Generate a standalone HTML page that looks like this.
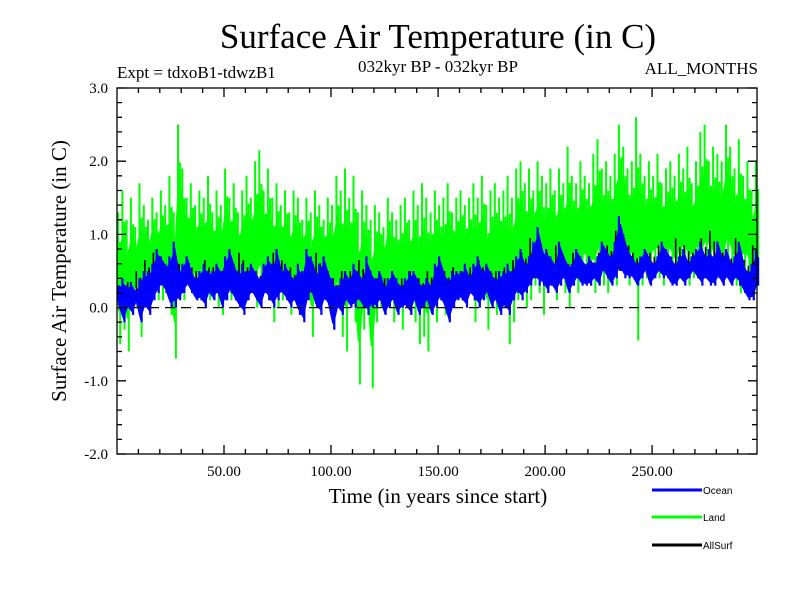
<!DOCTYPE html>
<html><head><meta charset="utf-8">
<style>
html,body{margin:0;padding:0;background:#fff;}
svg{display:block;font-family:"Liberation Serif",serif;}
</style></head>
<body>
<svg id="chart" width="800" height="600" viewBox="0 0 800 600">
<text x="438" y="48" font-size="35" text-anchor="middle">Surface Air Temperature (in C)</text>
<text x="117" y="78" font-size="17">Expt = tdxoB1-tdwzB1</text>
<text x="438" y="72" font-size="17" text-anchor="middle">032kyr BP - 032kyr BP</text>
<text x="758" y="74" font-size="17" text-anchor="end">ALL_MONTHS</text>
<text transform="translate(66,271) rotate(-90)" font-size="21" text-anchor="middle">Surface Air Temperature (in C)</text>
<text x="438" y="503" font-size="21" text-anchor="middle">Time (in years since start)</text>
<g id="plot"></g>
<g id="axes"></g>
<g>
 <g><line x1="652" y1="490" x2="702" y2="490" stroke="#0000ff" stroke-width="3"/><text x="703" y="494" font-family="Liberation Sans,sans-serif" font-size="10">Ocean</text></g>
 <g><line x1="652" y1="517" x2="702" y2="517" stroke="#00ff00" stroke-width="3"/><text x="703" y="521" font-family="Liberation Sans,sans-serif" font-size="10">Land</text></g>
 <g><line x1="652" y1="545" x2="702" y2="545" stroke="#000" stroke-width="3"/><text x="703" y="549" font-family="Liberation Sans,sans-serif" font-size="10">AllSurf</text></g>
</g>
</svg>
<script>
const landHi=[1.3,1.6,1.2,1.5,1.1,1.7,1.4,1.2,1.5,1.3,
1.6,1.4,1.8,1.3,2.5,1.9,1.5,1.7,1.4,1.6,
1.5,1.8,1.3,1.6,1.4,1.9,1.5,1.7,1.3,1.6,
1.8,1.5,2.0,2.15,1.6,1.9,1.5,1.7,1.4,1.6,
1.3,1.6,1.5,1.2,1.5,1.3,1.6,1.4,1.2,1.5,
1.4,1.8,1.6,1.9,1.5,1.8,1.3,1.6,1.4,1.2,
1.4,1.3,1.1,1.5,1.3,1.2,1.4,1.5,1.2,1.6,
1.4,1.7,1.5,1.3,1.6,1.4,1.5,1.7,1.3,1.5,
1.6,1.4,1.5,1.7,1.5,1.8,1.4,1.6,1.7,1.5,
1.6,1.8,1.5,1.9,2.0,1.7,1.9,1.6,2.0,1.8,
1.7,1.9,1.6,1.9,1.7,2.2,1.8,1.7,2.0,1.8,
1.7,2.1,2.3,1.9,2.0,1.8,2.1,2.5,2.2,1.9,
2.0,2.6,2.1,1.8,2.0,1.8,2.1,1.7,1.9,2.0,
1.8,2.1,1.9,2.2,1.7,2.0,2.4,2.5,2.0,2.2,
2.1,2.0,2.5,2.2,1.9,2.3,1.8,2.0,1.6,2.0];
const landLo=[-0.5,-0.3,-0.6,-0.1,0.0,-0.4,0.1,0.0,0.2,0.1,
0.1,0.2,-0.1,-0.7,0.2,0.1,0.3,0.2,0.1,0.2,
0.0,0.1,0.2,0.0,-0.1,0.2,0.1,0.2,0.0,0.1,
0.1,0.2,0.0,0.1,0.2,0.1,-0.2,0.0,0.1,0.2,
-0.1,0.1,0.0,0.2,0.1,-0.4,0.0,0.1,0.2,0.0,
-0.3,0.0,-0.4,-0.6,0.0,-0.2,-1.05,-0.3,-0.1,-1.1,
-0.2,0.0,-0.1,0.1,-0.2,0.0,-0.3,0.0,-0.1,-0.2,
-0.5,-0.4,-0.6,0.0,-0.2,0.1,-0.1,0.0,0.2,0.1,
0.1,0.0,0.2,-0.2,0.0,0.1,-0.3,0.0,-0.1,0.1,
0.0,-0.5,-0.2,0.1,0.2,0.0,0.1,0.3,0.2,-0.1,
0.2,0.3,0.1,0.3,0.2,0.0,0.3,0.2,0.3,0.4,
0.3,0.2,0.4,0.3,0.2,0.4,0.3,0.5,0.4,0.3,
0.4,-0.45,0.3,0.4,0.3,0.5,0.4,0.3,0.5,0.4,
0.3,0.4,0.5,0.3,0.4,0.5,0.3,0.4,0.5,0.3,
0.4,0.3,0.5,0.4,0.3,0.2,0.4,0.3,0.1,0.3];
const oceanHi=[0.3,0.4,0.3,0.35,0.2,0.4,0.5,0.5,0.6,0.8,
0.7,0.6,0.7,0.9,0.5,0.6,0.7,0.5,0.4,0.5,
0.6,0.5,0.5,0.6,0.5,0.7,0.8,0.6,0.5,0.6,
0.5,0.6,0.5,0.4,0.6,0.7,0.6,0.8,0.5,0.6,
0.5,0.4,0.6,0.5,0.8,0.7,0.5,0.6,0.7,0.5,
0.4,0.3,0.4,0.5,0.4,0.6,0.5,0.4,0.7,0.5,
0.4,0.5,0.3,0.4,0.5,0.4,0.3,0.4,0.5,0.5,
0.4,0.3,0.4,0.3,0.6,0.7,0.5,0.4,0.5,0.5,
0.5,0.6,0.4,0.6,0.7,0.5,0.6,0.5,0.4,0.5,
0.5,0.6,0.5,0.7,0.8,0.6,0.7,0.9,1.1,0.8,
0.8,0.7,0.6,0.9,0.7,0.6,0.6,0.8,0.7,0.6,
0.7,0.6,0.7,0.9,0.8,0.7,0.9,1.25,1.0,0.8,
0.7,0.6,0.7,0.8,0.7,0.6,0.7,0.9,0.8,0.7,
0.6,0.7,0.8,0.6,0.7,0.8,0.9,0.7,0.8,0.7,
0.9,0.7,0.8,0.6,0.7,0.9,0.6,0.5,0.6,0.8];
const oceanLo=[0.0,-0.2,0.0,-0.1,0.1,-0.2,0.0,-0.1,0.1,0.2,
0.3,0.2,0.0,0.0,0.1,0.2,0.3,0.2,0.1,0.1,
0.0,0.2,0.1,0.2,0.0,0.1,0.2,0.1,0.0,-0.1,
0.1,0.2,0.1,0.0,0.2,0.1,0.0,0.1,0.2,0.1,
0.0,0.1,-0.1,-0.2,0.1,0.2,0.0,-0.1,0.1,0.0,
-0.3,0.0,-0.1,0.1,0.0,0.0,0.1,0.0,-0.1,0.0,
0.0,0.1,-0.1,0.0,0.1,-0.1,0.0,0.0,-0.1,0.1,
-0.1,0.0,0.1,-0.1,0.0,0.1,0.0,-0.2,0.0,0.1,
0.1,0.0,0.2,0.1,0.0,0.1,0.2,0.0,0.1,-0.1,
0.0,-0.1,0.1,0.2,0.1,0.2,0.3,0.4,0.3,0.3,
0.2,0.3,0.2,0.3,0.4,0.2,0.3,0.4,0.3,0.3,
0.3,0.4,0.3,0.5,0.4,0.3,0.4,0.5,0.4,0.4,
0.4,0.3,0.4,0.5,0.3,0.4,0.5,0.4,0.4,0.3,
0.3,0.4,0.3,0.4,0.5,0.4,0.3,0.4,0.3,0.3,
0.4,0.3,0.4,0.3,0.4,0.3,0.2,0.1,0.1,0.3];
const allHi=[0.3,0.35,0.5,0.65,0.75,0.55,0.5,0.6,0.65,0.5,0.65,0.55,0.5,0.65,0.75,0.55,0.5,0.55,0.75,0.65,0.55,0.5,0.65,0.75,0.55,
0.4,0.5,0.5,0.65,0.5,0.4,0.4,0.35,0.4,0.5,0.4,0.5,0.55,0.5,0.55,0.5,0.55,0.65,0.55,0.5,0.55,0.65,0.75,0.95,0.85,
0.75,0.85,0.65,0.75,0.6,0.65,0.75,0.85,1.05,0.95,0.75,0.65,0.75,0.85,0.75,0.95,0.85,0.75,0.95,1.05,0.85,0.75,0.95,0.65,0.85];
const allLo=[0.1,0.0,0.1,0.2,0.3,0.2,0.2,0.2,0.2,0.3,0.2,0.2,0.1,0.2,0.3,0.2,0.2,0.1,0.2,0.2,0.1,0.1,0.2,0.1,0.1,
0.0,0.1,0.1,0.1,0.1,0.1,0.1,0.0,0.1,0.1,0.1,0.1,0.2,0.1,0.2,0.1,0.1,0.2,0.2,0.1,0.2,0.3,0.4,0.4,0.4,
0.3,0.4,0.4,0.4,0.4,0.5,0.5,0.5,0.5,0.5,0.4,0.5,0.5,0.5,0.5,0.4,0.5,0.5,0.4,0.4,0.4,0.4,0.3,0.3,0.4];
const xTickVals=[50,100,150,200,250];
const xTickLabels=["50.00","100.00","150.00","200.00","250.00"];
const yTickVals=[-2,-1,0,1,2,3];
const yTickLabels=["-2.0","-1.0","0.0","1.0","2.0","3.0"];

const X0=117,X1=757,Y0=88,Y1=454,XMIN=0,XMAX=299,YMIN=-2,YMAX=3;
const NS="http://www.w3.org/2000/svg";
function sx(v){return X0+(v-XMIN)/(XMAX-XMIN)*(X1-X0);}
function sy(v){return Y1-(v-YMIN)/(YMAX-YMIN)*(Y1-Y0);}
const plot=document.getElementById('plot');
const axes=document.getElementById('axes');
function mk(tag,attrs,parent){const e=document.createElementNS(NS,tag);for(const k in attrs)e.setAttribute(k,attrs[k]);parent.appendChild(e);return e;}
function bars(hi,lo,step){let d='';for(let i=0;i<hi.length;i++){const t=i*step;
 const xa=sx(t+step*0.25).toFixed(1),xb=sx(t+step*0.75).toFixed(1);
 const m=(hi[i]+lo[i])/2;
 d+=`M${xa} ${sy(hi[i]).toFixed(1)}V${sy(m-(m-lo[i])*0.4).toFixed(1)}`;
 d+=`M${xb} ${sy(m+(hi[i]-m)*0.55).toFixed(1)}V${sy(lo[i]).toFixed(1)}`;}
 return d;}
function core(hi,lo,step,a,b){let top='',bot=[];for(let i=0;i<hi.length;i++){const t=i*step+step/2;
 top+=(i?'L':'M')+sx(t).toFixed(1)+' '+sy(lo[i]+(hi[i]-lo[i])*b).toFixed(1);
 bot.push('L'+sx(t).toFixed(1)+' '+sy(lo[i]+(hi[i]-lo[i])*a).toFixed(1));}
 return top+bot.reverse().join('')+'Z';}

const landCore=mk('path',{d:core(landHi,landLo,2,0.25,0.68),fill:'#00ff00',stroke:'#00ff00','stroke-width':2},plot);


const land=mk('path',{d:bars(landHi,landLo,2),fill:'none',stroke:'#00ff00','stroke-width':2},plot);


const allS=mk('path',{d:bars(allHi,allLo,4),fill:'none',stroke:'#000','stroke-width':1.6},plot);


const oceanCore=mk('path',{d:core(oceanHi,oceanLo,2,0.12,0.85),fill:'#0000ff',stroke:'#0000ff','stroke-width':2},plot);


const ocean=mk('path',{d:bars(oceanHi,oceanLo,2),fill:'none',stroke:'#0000ff','stroke-width':2.2},plot);


const zl=mk('line',{x1:X0,x2:X1,y1:sy(0),y2:sy(0),stroke:'#000','stroke-width':1.3,'stroke-dasharray':'10,6'},plot);



const frame=mk('rect',{x:X0,y:Y0,width:X1-X0,height:Y1-Y0,fill:'none',stroke:'#000','stroke-width':1.3},axes);


let td='';
for(let v=10;v<XMAX;v+=10){const x=sx(v).toFixed(1);const L=(v%50===0)?9:5;td+=`M${x} ${Y1}v${-L}M${x} ${Y0}v${L}`;}
for(let k=0;k<=25;k++){const v=YMIN+k*0.2;const y=sy(v).toFixed(1);const L=(k%5===0)?9:5;td+=`M${X0} ${y}h${L}M${X1} ${y}h${-L}`;}
const ticks=mk('path',{d:td,stroke:'#000','stroke-width':1.3,fill:'none'},axes);


xTickVals.forEach((v,i)=>{const t=mk('text',{x:sx(v),y:Y1+22,'font-size':15,'text-anchor':'middle'},axes);t.textContent=xTickLabels[i];

});
yTickVals.forEach((v,i)=>{const t=mk('text',{x:X0-9,y:sy(v)+5,'font-size':15,'text-anchor':'end'},axes);t.textContent=yTickLabels[i];

});
</script>
</body></html>
